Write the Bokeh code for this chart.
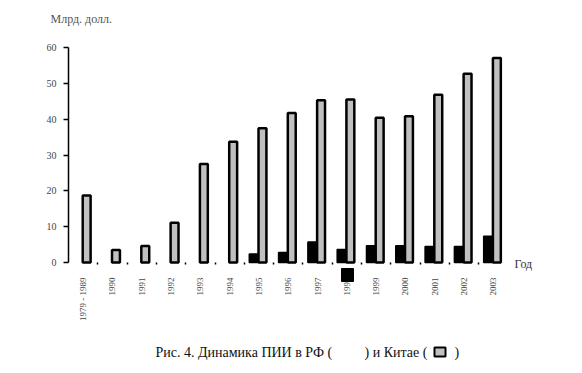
import numpy as np
from bokeh.plotting import figure
from bokeh.models import FixedTicker, Label, BoxAnnotation, LinearAxis
from bokeh.embed import file_html
from bokeh.resources import INLINE

years = ["1979 - 1989", "1990", "1991", "1992", "1993", "1994", "1995", "1996",
         "1997", "1998", "1999", "2000", "2001", "2002", "2003"]
china = [18.7, 3.5, 4.6, 11.1, 27.5, 33.7, 37.5, 41.7, 45.3, 45.5, 40.4, 40.8, 46.8, 52.7, 57.1]
russia = [None, None, None, None, None, None, 2.4, 2.8, 5.7, 3.6, 4.7, 4.7, 4.5, 4.5, 7.3]
y_ticks = [0, 10, 20, 30, 40, 50, 60]

FONT = "Liberation Serif"
W, H = 582, 373
# layout: origin (0, 0) at pixel (68, 262); 29.3 px per category, 3.5833 px per unit
PX_X, PX_Y = 29.3, 215.0 / 60.0
OX, OY = 68.0, 262.0

def dx(px):
    return (px - OX) / PX_X

def dy(py):
    return (OY - py) / PX_Y

n = len(years)
centers = np.arange(n) + 0.5

p = figure(width=W, height=H, output_backend="svg", toolbar_location=None,
           x_range=(dx(0), dx(W)), y_range=(dy(H), dy(0)),
           x_axis_type=None, y_axis_type=None, min_border=0)
p.outline_line_color = None
p.grid.visible = False
p.background_fill_color = "white"

ru_x = [c - 0.18 for c, v in zip(centers, russia) if v is not None]
ru_y = [v for v in russia if v is not None]
p.vbar(x=ru_x, top=ru_y, width=0.3, bottom=0, fill_color="black", line_color="black", line_width=1.5)
p.vbar(x=centers + 0.12, top=china, width=0.27, bottom=0, fill_color="#c0c0c0",
       line_color="black", line_width=2.5)

# y axis
ya = LinearAxis(fixed_location=0, bounds=(0, 60), ticker=FixedTicker(ticks=y_ticks))
ya.axis_line_color = "black"
ya.axis_line_width = 1.5
ya.major_tick_out = 5
ya.major_tick_in = 0
ya.major_tick_line_width = 1.5
ya.minor_tick_line_color = None
ya.major_label_text_font = FONT
ya.major_label_text_font_size = "10px"
ya.major_label_text_color = "#444444"
ya.major_label_standoff = 7
p.add_layout(ya, "left")

# x axis
xa = LinearAxis(fixed_location=0, bounds=(0, n),
                ticker=FixedTicker(ticks=list(centers), minor_ticks=list(range(1, n))))
xa.major_label_overrides = {float(c): y for c, y in zip(centers, years)}
xa.axis_line_color = None
xa.major_tick_line_color = None
xa.minor_tick_out = 2
xa.minor_tick_in = 0
xa.minor_tick_line_color = "black"
xa.minor_tick_line_width = 1.5
xa.major_label_orientation = np.pi / 2
xa.major_label_text_font = FONT
xa.major_label_text_font_size = "9px"
xa.major_label_text_color = "#444444"
xa.major_label_standoff = 9
p.add_layout(xa, "below")

def txt(x, y, s, size="12px", color="#333333", align="left"):
    p.add_layout(Label(x=x, y=y, text=s, text_font=FONT, text_font_size=size,
                       text_color=color, text_align=align, text_baseline="middle"))

txt(dx(50), dy(18), "Млрд. долл.", color="#555555")
txt(dx(514), dy(263), "Год")
txt(dx(155), dy(352), "Рис. 4. Динамика ПИИ в РФ (", size="14px", color="#111111")
txt(dx(364), dy(352), ") и Китае (", size="14px", color="#111111")
txt(dx(454), dy(352), ")", size="14px", color="#111111")

# legend swatches
p.add_layout(BoxAnnotation(left=dx(341), right=dx(353), top=dy(268), bottom=dy(281),
                           fill_color="black", fill_alpha=1, line_color="black", line_alpha=1))
p.add_layout(BoxAnnotation(left=dx(434), right=dx(445), top=dy(347), bottom=dy(356),
                           fill_color="#c0c0c0", fill_alpha=1, line_color="black", line_alpha=1,
                           line_width=2))

open("out.html", "w").write(file_html(p, INLINE))
